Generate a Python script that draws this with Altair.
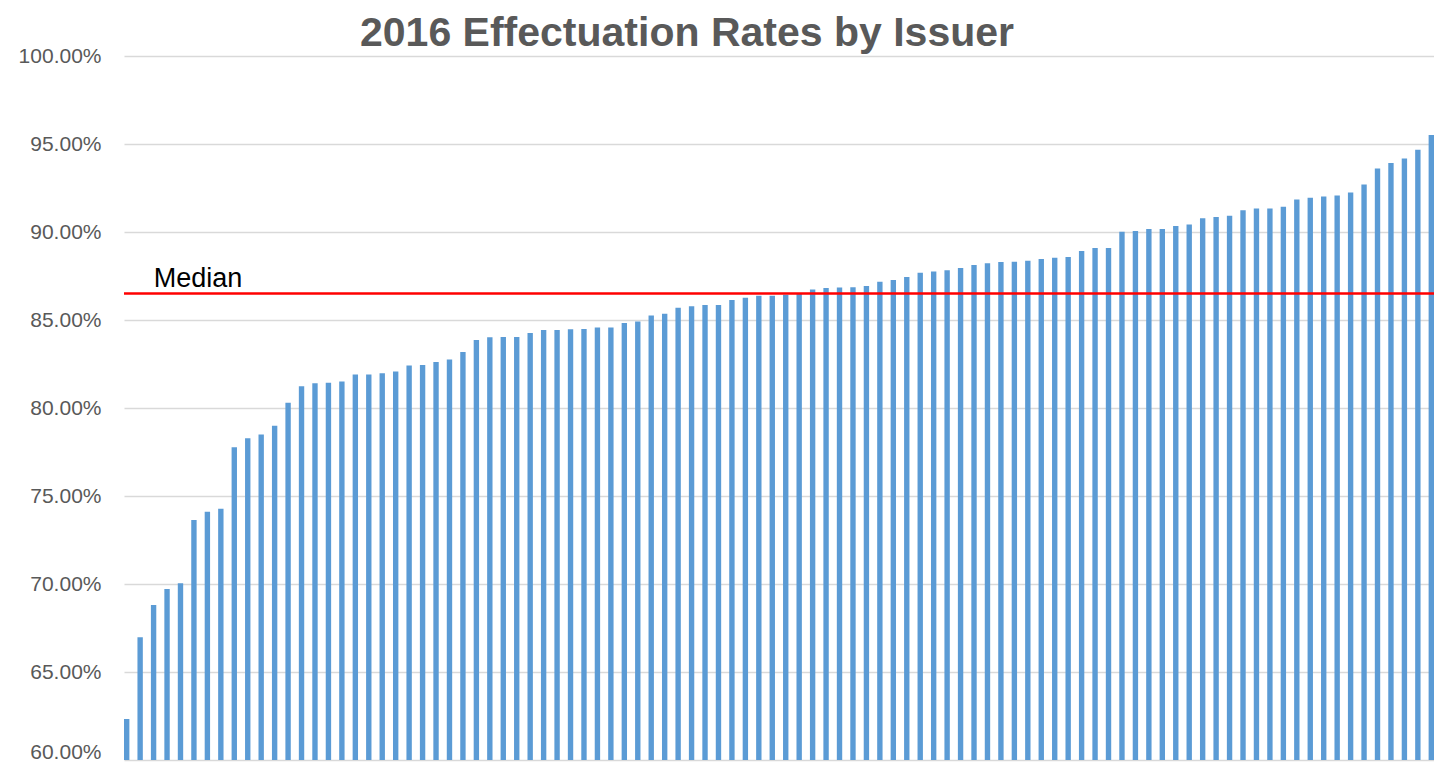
import altair as alt
import pandas as pd

# ---- data ----
issuer_rank = list(range(1, 99))
rates_pct = [
    62.33, 66.97, 68.81, 69.72, 70.04, 73.64, 74.11, 74.28, 77.77, 78.28,
    78.49, 78.99, 80.30, 81.23, 81.40, 81.44, 81.51, 81.91, 81.91, 81.97,
    82.08, 82.42, 82.44, 82.61, 82.75, 83.18, 83.86, 84.02, 84.03, 84.03,
    84.26, 84.43, 84.43, 84.47, 84.49, 84.58, 84.58, 84.83, 84.91, 85.25,
    85.36, 85.70, 85.78, 85.85, 85.85, 86.14, 86.27, 86.38, 86.38, 86.44,
    86.52, 86.74, 86.82, 86.84, 86.86, 86.93, 87.18, 87.27, 87.44, 87.69,
    87.75, 87.82, 87.95, 88.13, 88.22, 88.30, 88.31, 88.37, 88.47, 88.54,
    88.58, 88.92, 89.09, 89.09, 90.02, 90.06, 90.17, 90.17, 90.34, 90.43,
    90.78, 90.85, 90.93, 91.23, 91.33, 91.34, 91.44, 91.84, 91.95, 92.02,
    92.08, 92.25, 92.70, 93.61, 93.92, 94.18, 94.67, 95.51,
]
median_pct = 86.5
median_label = "Median"
y_ticks = [0.60, 0.65, 0.70, 0.75, 0.80, 0.85, 0.90, 0.95, 1.00]
title_text = "2016 Effectuation Rates by Issuer"

df = pd.DataFrame({"issuer": issuer_rank, "rate": [r / 100 for r in rates_pct]})
median_df = pd.DataFrame({"issuer": [issuer_rank[0]], "rate": [median_pct / 100],
                          "label": [median_label]})

W, H = 1310, 704

x_scale = alt.Scale(paddingInner=0.6, paddingOuter=0.0)
y_scale = alt.Scale(domain=[0.60, 1.00], zero=False)
y_axis = alt.Axis(values=y_ticks, format=".2%", title=None, domain=False, ticks=False,
                  labelFont="Liberation Sans", labelFontSize=21, labelColor="#595959",
                  labelPadding=23, gridColor="#D9D9D9", gridWidth=1.3,
                  labelOffset={"condition": {"test": "datum.value <= 0.601", "value": -8},
                               "value": 0})

bars = alt.Chart(df).mark_bar(color="#5B9BD5", clip=True).encode(
    x=alt.X("issuer:O", axis=None, scale=x_scale),
    y=alt.Y("rate:Q", scale=y_scale, axis=y_axis),
)

rule = alt.Chart(median_df).mark_rule(color="#FF0000", strokeWidth=2.5).encode(
    y=alt.Y("rate:Q", scale=y_scale)
)

label = alt.Chart(median_df).mark_text(
    align="left", baseline="alphabetic", dx=27, dy=-7,
    font="Liberation Sans", fontSize=27, color="#000000"
).encode(
    x=alt.X("issuer:O", axis=None, scale=x_scale),
    y=alt.Y("rate:Q", scale=y_scale),
    text="label:N",
)

chart = alt.layer(bars, rule, label).properties(
    width=W, height=H,
    background="white",
    title=alt.TitleParams(title_text, font="Liberation Sans", fontSize=41,
                          fontWeight="bold", color="#595959", anchor="middle",
                          frame="group", dx=-92, baseline="bottom", offset=-51),
    autosize=alt.AutoSizeParams(type="none"),
    padding={"left": 116, "top": 48, "right": 0, "bottom": 2},
).configure_view(stroke=None)

chart.save("out.html", embed_options={"renderer": "svg", "actions": False})
